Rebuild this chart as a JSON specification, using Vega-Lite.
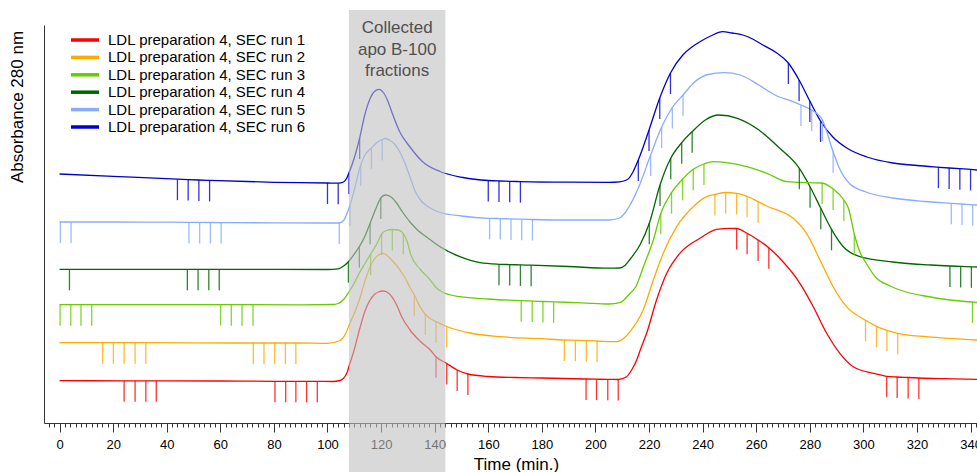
{
"$schema": "https://vega.github.io/schema/vega-lite/v6.json",
"width": 933, "height": 398, "autosize": "none",
"padding": {"left": 44, "top": 25, "right": 0, "bottom": 49},
"config": {"font": "Liberation Sans", "view": {"stroke": null}},
"resolve": {"axis": {"x": "independent"}},
"datasets": {"d": [
{"s":6,"t":0,"a":249},{"s":6,"t":20,"a":246.7},{"s":6,"t":44,"a":243.8,"m":1},{"s":6,"t":48,"a":243.4,"m":1},{"s":6,"t":52,"a":243,"m":1},{"s":6,"t":56,"a":242.6,"m":1},{"s":6,"t":80,"a":240.7},{"s":6,"t":100,"a":240,"m":1},{"s":6,"t":104,"a":239.8,"m":1},{"s":6,"t":106,"a":241},{"s":6,"t":107.2,"a":245},{"s":6,"t":108,"a":250,"m":1},{"s":6,"t":110,"a":265},{"s":6,"t":112,"a":285,"m":1},{"s":6,"t":114,"a":309},{"s":6,"t":116,"a":325},{"s":6,"t":117.5,"a":331.5},{"s":6,"t":119.2,"a":333.7},{"s":6,"t":121,"a":330},{"s":6,"t":122.5,"a":322},{"s":6,"t":124,"a":311},{"s":6,"t":127,"a":291},{"s":6,"t":130.8,"a":276},{"s":6,"t":135.6,"a":261},{"s":6,"t":142,"a":251.5},{"s":6,"t":150.6,"a":245.5},{"s":6,"t":160,"a":242.5,"m":1},{"s":6,"t":164,"a":242,"m":1},{"s":6,"t":168,"a":241.7,"m":1},{"s":6,"t":172,"a":241.4,"m":1},{"s":6,"t":190,"a":240.8},{"s":6,"t":205,"a":240.7},{"s":6,"t":209,"a":241.2},{"s":6,"t":212,"a":243.5},{"s":6,"t":214,"a":251},{"s":6,"t":216,"a":263,"m":1},{"s":6,"t":220,"a":293,"m":1},{"s":6,"t":224,"a":325,"m":1},{"s":6,"t":228,"a":350,"m":1},{"s":6,"t":232.6,"a":368},{"s":6,"t":236,"a":376},{"s":6,"t":239,"a":381.3},{"s":6,"t":243,"a":387},{"s":6,"t":247.5,"a":391.3},{"s":6,"t":251,"a":390},{"s":6,"t":255,"a":388},{"s":6,"t":259,"a":383.5},{"s":6,"t":262.5,"a":378},{"s":6,"t":267.7,"a":370},{"s":6,"t":272,"a":360,"m":1},{"s":6,"t":276,"a":343,"m":1},{"s":6,"t":280,"a":322,"m":1},{"s":6,"t":284,"a":302,"m":1},{"s":6,"t":288.6,"a":286},{"s":6,"t":293.8,"a":275},{"s":6,"t":301.3,"a":266},{"s":6,"t":311,"a":260},{"s":6,"t":320,"a":257.5},{"s":6,"t":328,"a":255.8,"m":1},{"s":6,"t":332,"a":255,"m":1},{"s":6,"t":336,"a":254.3,"m":1},{"s":6,"t":340,"a":253.6,"m":1},{"s":6,"t":342.4,"a":253},
{"s":5,"t":0,"a":201},{"s":5,"t":0.3,"a":201,"m":1},{"s":5,"t":4.3,"a":201,"m":1},{"s":5,"t":20,"a":201},{"s":5,"t":40,"a":200.8},{"s":5,"t":48.3,"a":200.7,"m":1},{"s":5,"t":52.3,"a":200.6,"m":1},{"s":5,"t":56.3,"a":200.5,"m":1},{"s":5,"t":60.3,"a":200.4,"m":1},{"s":5,"t":80,"a":200.2},{"s":5,"t":100,"a":200},{"s":5,"t":104.4,"a":200,"m":1},{"s":5,"t":106,"a":202.5},{"s":5,"t":108.4,"a":218,"m":1},{"s":5,"t":110,"a":233},{"s":5,"t":112.4,"a":258,"m":1},{"s":5,"t":114,"a":268},{"s":5,"t":116.4,"a":275,"m":1},{"s":5,"t":118.3,"a":280},{"s":5,"t":120.4,"a":283.5,"m":1},{"s":5,"t":121.5,"a":284.5},{"s":5,"t":123,"a":283},{"s":5,"t":125,"a":279},{"s":5,"t":127,"a":271},{"s":5,"t":129,"a":259},{"s":5,"t":130.8,"a":246},{"s":5,"t":132.5,"a":233},{"s":5,"t":135,"a":222},{"s":5,"t":138,"a":215.5},{"s":5,"t":142,"a":210.5},{"s":5,"t":150,"a":207},{"s":5,"t":160.5,"a":204.7,"m":1},{"s":5,"t":164.5,"a":204.4,"m":1},{"s":5,"t":168.5,"a":204.1,"m":1},{"s":5,"t":172.5,"a":203.8,"m":1},{"s":5,"t":176.5,"a":203.5,"m":1},{"s":5,"t":190,"a":203},{"s":5,"t":205,"a":203},{"s":5,"t":209,"a":205},{"s":5,"t":212,"a":214},{"s":5,"t":216.2,"a":236.3},{"s":5,"t":220.6,"a":268,"m":1},{"s":5,"t":224.7,"a":296,"m":1},{"s":5,"t":228.7,"a":315.5,"m":1},{"s":5,"t":232.7,"a":328,"m":1},{"s":5,"t":237,"a":341},{"s":5,"t":242,"a":348.5},{"s":5,"t":248,"a":350.3},{"s":5,"t":254,"a":348},{"s":5,"t":261,"a":338},{"s":5,"t":267,"a":328},{"s":5,"t":273.8,"a":321.3},{"s":5,"t":276.7,"a":318,"m":1},{"s":5,"t":280.7,"a":313,"m":1},{"s":5,"t":284.7,"a":303,"m":1},{"s":5,"t":288.7,"a":271.3,"m":1},{"s":5,"t":291,"a":255},{"s":5,"t":295,"a":239},{"s":5,"t":301,"a":231},{"s":5,"t":311,"a":225},{"s":5,"t":323,"a":221.5},{"s":5,"t":332.8,"a":219.7,"m":1},{"s":5,"t":336.8,"a":219,"m":1},{"s":5,"t":340.8,"a":218.2,"m":1},{"s":5,"t":342.4,"a":218},
{"s":4,"t":0,"a":153.7},{"s":4,"t":3.7,"a":153.7,"m":1},{"s":4,"t":20,"a":153.7},{"s":4,"t":47.7,"a":153.7,"m":1},{"s":4,"t":51.7,"a":153.7,"m":1},{"s":4,"t":55.7,"a":153.7,"m":1},{"s":4,"t":59.6,"a":153.7,"m":1},{"s":4,"t":80,"a":153.7},{"s":4,"t":100,"a":153.5},{"s":4,"t":104,"a":154.2},{"s":4,"t":106,"a":157},{"s":4,"t":107.8,"a":161.3,"m":1},{"s":4,"t":110,"a":169},{"s":4,"t":111.9,"a":176.3,"m":1},{"s":4,"t":114,"a":187},{"s":4,"t":115.9,"a":199.7,"m":1},{"s":4,"t":118,"a":214},{"s":4,"t":119.9,"a":225,"m":1},{"s":4,"t":121.5,"a":228},{"s":4,"t":123.5,"a":226.5},{"s":4,"t":125.5,"a":221},{"s":4,"t":128,"a":211},{"s":4,"t":130.8,"a":201},{"s":4,"t":134,"a":192},{"s":4,"t":137,"a":186},{"s":4,"t":142,"a":176.3},{"s":4,"t":149.4,"a":166.3},{"s":4,"t":156.9,"a":160.3},{"s":4,"t":164,"a":158.7,"m":1},{"s":4,"t":168,"a":158.4,"m":1},{"s":4,"t":172,"a":158.1,"m":1},{"s":4,"t":176,"a":157.8,"m":1},{"s":4,"t":190,"a":156.5},{"s":4,"t":205,"a":154.8},{"s":4,"t":209,"a":155},{"s":4,"t":211,"a":157.5},{"s":4,"t":213,"a":164},{"s":4,"t":216.6,"a":178},{"s":4,"t":220.1,"a":199.7,"m":1},{"s":4,"t":224.1,"a":238,"m":1},{"s":4,"t":228.1,"a":264.7,"m":1},{"s":4,"t":232.2,"a":280.3,"m":1},{"s":4,"t":236.1,"a":291.3,"m":1},{"s":4,"t":241,"a":303},{"s":4,"t":246,"a":308},{"s":4,"t":253,"a":304.7},{"s":4,"t":261,"a":293},{"s":4,"t":268.8,"a":274.7},{"s":4,"t":276.1,"a":254.7,"m":1},{"s":4,"t":280.1,"a":236.3,"m":1},{"s":4,"t":284.1,"a":214.7,"m":1},{"s":4,"t":288.1,"a":193.7,"m":1},{"s":4,"t":292.5,"a":176.3},{"s":4,"t":298.7,"a":166.3},{"s":4,"t":311,"a":161},{"s":4,"t":325,"a":158},{"s":4,"t":332.3,"a":157,"m":1},{"s":4,"t":336.3,"a":156.6,"m":1},{"s":4,"t":340.3,"a":156.2,"m":1},{"s":4,"t":342.4,"a":156},
{"s":3,"t":0,"a":118.3},{"s":3,"t":0.2,"a":118.3,"m":1},{"s":3,"t":4.2,"a":118.3,"m":1},{"s":3,"t":8,"a":118.3,"m":1},{"s":3,"t":12,"a":118.3,"m":1},{"s":3,"t":30,"a":118.3},{"s":3,"t":60.1,"a":118.3,"m":1},{"s":3,"t":64.1,"a":118.3,"m":1},{"s":3,"t":68.1,"a":118.3,"m":1},{"s":3,"t":72.2,"a":118.3,"m":1},{"s":3,"t":90,"a":118.2},{"s":3,"t":102,"a":118.5},{"s":3,"t":104,"a":119.5},{"s":3,"t":106,"a":123.5},{"s":3,"t":108,"a":131},{"s":3,"t":110,"a":140},{"s":3,"t":112.1,"a":151},{"s":3,"t":114,"a":159.5},{"s":3,"t":116.1,"a":169,"m":1},{"s":3,"t":118.4,"a":179},{"s":3,"t":120.2,"a":189,"m":1},{"s":3,"t":122,"a":192.5},{"s":3,"t":124.2,"a":193.5,"m":1},{"s":3,"t":126.5,"a":193},{"s":3,"t":128.3,"a":189.5,"m":1},{"s":3,"t":129.8,"a":181},{"s":3,"t":131,"a":169},{"s":3,"t":134.5,"a":154},{"s":3,"t":138.2,"a":143.5},{"s":3,"t":140.7,"a":135},{"s":3,"t":143.2,"a":130.5},{"s":3,"t":149.4,"a":126.3},{"s":3,"t":160,"a":124},{"s":3,"t":172.3,"a":122.3,"m":1},{"s":3,"t":176.4,"a":121.9,"m":1},{"s":3,"t":180.4,"a":121.5,"m":1},{"s":3,"t":184.4,"a":121.1,"m":1},{"s":3,"t":195,"a":120.2},{"s":3,"t":205,"a":119},{"s":3,"t":209.1,"a":120.3},{"s":3,"t":212.9,"a":129.7},{"s":3,"t":215,"a":136},{"s":3,"t":218,"a":157},{"s":3,"t":221.6,"a":183},{"s":3,"t":224.4,"a":209.7,"m":1},{"s":3,"t":228.4,"a":230.3,"m":1},{"s":3,"t":232.5,"a":243.7,"m":1},{"s":3,"t":236.5,"a":253.7,"m":1},{"s":3,"t":240.5,"a":259,"m":1},{"s":3,"t":244,"a":261.3},{"s":3,"t":249,"a":260.3},{"s":3,"t":256.5,"a":256.3},{"s":3,"t":264,"a":249.7},{"s":3,"t":271.5,"a":241.3},{"s":3,"t":279,"a":240.3},{"s":3,"t":284.6,"a":240,"m":1},{"s":3,"t":288.7,"a":234,"m":1},{"s":3,"t":292.7,"a":223,"m":1},{"s":3,"t":294.5,"a":214},{"s":3,"t":296.6,"a":189,"m":1},{"s":3,"t":298.7,"a":171},{"s":3,"t":301,"a":160},{"s":3,"t":304.5,"a":146},{"s":3,"t":310,"a":137},{"s":3,"t":316,"a":131},{"s":3,"t":324,"a":126.5},{"s":3,"t":331,"a":123.5},{"s":3,"t":340.7,"a":121,"m":1},{"s":3,"t":342.4,"a":120.7},
{"s":2,"t":0,"a":80.3},{"s":2,"t":16.1,"a":80.3,"m":1},{"s":2,"t":20.1,"a":80.3,"m":1},{"s":2,"t":24.1,"a":80.3,"m":1},{"s":2,"t":28.2,"a":80.3,"m":1},{"s":2,"t":32.2,"a":80.3,"m":1},{"s":2,"t":50,"a":80.2},{"s":2,"t":72.3,"a":80,"m":1},{"s":2,"t":76.3,"a":80,"m":1},{"s":2,"t":80.3,"a":80,"m":1},{"s":2,"t":84.3,"a":80,"m":1},{"s":2,"t":88.2,"a":80,"m":1},{"s":2,"t":100,"a":79.7},{"s":2,"t":104.7,"a":82.5},{"s":2,"t":106.5,"a":88},{"s":2,"t":108.4,"a":100},{"s":2,"t":110.5,"a":113},{"s":2,"t":112.1,"a":125},{"s":2,"t":114,"a":142},{"s":2,"t":115.9,"a":156},{"s":2,"t":117.5,"a":164},{"s":2,"t":119,"a":168},{"s":2,"t":120.6,"a":169.7},{"s":2,"t":122,"a":168},{"s":2,"t":123.3,"a":164.7},{"s":2,"t":125,"a":160},{"s":2,"t":127.1,"a":153},{"s":2,"t":129,"a":145},{"s":2,"t":130.8,"a":135.5},{"s":2,"t":132.4,"a":128,"m":1},{"s":2,"t":134.5,"a":116.3},{"s":2,"t":136.5,"a":109,"m":1},{"s":2,"t":138.2,"a":104.7},{"s":2,"t":140.5,"a":101.3,"m":1},{"s":2,"t":144.5,"a":96.5,"m":1},{"s":2,"t":153.2,"a":90},{"s":2,"t":164.4,"a":86.3},{"s":2,"t":180,"a":84.3},{"s":2,"t":188.4,"a":83,"m":1},{"s":2,"t":192.5,"a":82.7,"m":1},{"s":2,"t":196.6,"a":82.4,"m":1},{"s":2,"t":200.6,"a":82,"m":1},{"s":2,"t":207.9,"a":81.3},{"s":2,"t":210.5,"a":84.5},{"s":2,"t":212.9,"a":91.3},{"s":2,"t":217.8,"a":113},{"s":2,"t":221.6,"a":143},{"s":2,"t":225.3,"a":169.7},{"s":2,"t":230.3,"a":196.3},{"s":2,"t":236.5,"a":216.3},{"s":2,"t":241.5,"a":226.3},{"s":2,"t":244.6,"a":228.5,"m":1},{"s":2,"t":248.6,"a":230.5,"m":1},{"s":2,"t":252.7,"a":229.7,"m":1},{"s":2,"t":256.6,"a":226.7,"m":1},{"s":2,"t":260.7,"a":221.3,"m":1},{"s":2,"t":263.9,"a":217},{"s":2,"t":273.8,"a":204.7},{"s":2,"t":278.8,"a":189.7},{"s":2,"t":283.8,"a":163},{"s":2,"t":288.7,"a":136.3},{"s":2,"t":293.7,"a":116.3},{"s":2,"t":300.8,"a":102.7,"m":1},{"s":2,"t":304.9,"a":96.7,"m":1},{"s":2,"t":308.8,"a":92.7,"m":1},{"s":2,"t":312.8,"a":89.7,"m":1},{"s":2,"t":323.6,"a":86.3},{"s":2,"t":342.4,"a":83},
{"s":1,"t":0,"a":42.3},{"s":1,"t":24.1,"a":42.2,"m":1},{"s":1,"t":28.2,"a":42.2,"m":1},{"s":1,"t":32.2,"a":42.2,"m":1},{"s":1,"t":36.1,"a":42.2,"m":1},{"s":1,"t":60,"a":42},{"s":1,"t":80.4,"a":41.7,"m":1},{"s":1,"t":84.4,"a":41.7,"m":1},{"s":1,"t":88.2,"a":41.7,"m":1},{"s":1,"t":92.2,"a":41.7,"m":1},{"s":1,"t":96.2,"a":41.7,"m":1},{"s":1,"t":102,"a":41.5},{"s":1,"t":104.7,"a":42.5},{"s":1,"t":107.2,"a":49.7},{"s":1,"t":108.4,"a":60},{"s":1,"t":109.6,"a":69.7},{"s":1,"t":112.1,"a":95},{"s":1,"t":114,"a":112},{"s":1,"t":115.9,"a":123},{"s":1,"t":117.5,"a":128.5},{"s":1,"t":119,"a":131},{"s":1,"t":120.8,"a":132},{"s":1,"t":122.5,"a":130.5},{"s":1,"t":124,"a":126.3},{"s":1,"t":126,"a":117},{"s":1,"t":127.7,"a":106.3},{"s":1,"t":130.8,"a":93},{"s":1,"t":134.5,"a":82},{"s":1,"t":138.2,"a":73.5},{"s":1,"t":140.5,"a":66.3,"m":1},{"s":1,"t":144.5,"a":59.5,"m":1},{"s":1,"t":148.4,"a":53,"m":1},{"s":1,"t":152.4,"a":49,"m":1},{"s":1,"t":160,"a":46.5},{"s":1,"t":170,"a":45.5},{"s":1,"t":180,"a":45},{"s":1,"t":196.5,"a":44,"m":1},{"s":1,"t":200.4,"a":43.8,"m":1},{"s":1,"t":204.6,"a":43.7,"m":1},{"s":1,"t":208.5,"a":43.5,"m":1},{"s":1,"t":211.6,"a":46.3},{"s":1,"t":213.5,"a":53},{"s":1,"t":215.4,"a":63},{"s":1,"t":217,"a":75},{"s":1,"t":219.1,"a":89.7},{"s":1,"t":222.8,"a":123},{"s":1,"t":226.6,"a":149.7},{"s":1,"t":231.5,"a":169.7},{"s":1,"t":239,"a":184.7},{"s":1,"t":245.2,"a":193.7},{"s":1,"t":250.2,"a":194.7},{"s":1,"t":252.7,"a":194.5,"m":1},{"s":1,"t":256.6,"a":189.7,"m":1},{"s":1,"t":260.7,"a":183,"m":1},{"s":1,"t":264.7,"a":175.3,"m":1},{"s":1,"t":268.8,"a":164.7},{"s":1,"t":276.3,"a":139.7},{"s":1,"t":281.3,"a":116.3},{"s":1,"t":286.3,"a":89.7},{"s":1,"t":291.2,"a":69.7},{"s":1,"t":296.2,"a":56.3},{"s":1,"t":303.7,"a":49.7},{"s":1,"t":308.7,"a":46.7,"m":1},{"s":1,"t":312.6,"a":46,"m":1},{"s":1,"t":316.7,"a":45.5,"m":1},{"s":1,"t":320.7,"a":45,"m":1},{"s":1,"t":330,"a":44.3},{"s":1,"t":342.4,"a":43.7}
]},
"data": {"name": "d"},
"layer": [
{"mark": {"type": "line", "strokeWidth": 1.3, "interpolate": "monotone"},
 "encoding": {
  "x": {"field": "t", "type": "quantitative", "scale": {"domain": [-5.8, 342.4], "nice": false, "zero": false},
   "axis": {"title": "Time (min.)", "orient": "bottom", "values": [0,20,40,60,80,100,120,140,160,180,200,220,240,260,280,300,320,340],
    "tickSize": 9, "grid": false, "labelFontSize": 13, "labelColor": "#000", "labelPadding": 6, "labelOverlap": false, "labelFlush": false,
    "domainColor": "#333", "tickColor": "#333", "tickWidth": 1,
    "titleFontSize": 17, "titleFontWeight": "normal", "titleColor": "#000", "titleX": 472, "titleY": 46, "titleBaseline": "alphabetic"}},
  "y": {"field": "a", "type": "quantitative", "scale": {"domain": [0, 398], "nice": false},
   "axis": {"title": "Absorbance 280 nm", "ticks": false, "labels": false, "grid": false, "domainColor": "#333",
    "titleFontSize": 17, "titleFontWeight": "normal", "titleColor": "#000", "titleX": -27, "titleY": 81.5, "titleAngle": 270, "titleAlign": "center", "titleBaseline": "middle"}},
  "color": {"field": "s", "type": "nominal", "scale": {"domain": [1,2,3,4,5,6], "range": ["#ff0000","#ffaa00","#66cc00","#006600","#88aaff","#0000cc"]},
   "legend": {"title": null, "orient": "none", "legendX": 32, "legendY": 6, "padding": 0, "symbolType": "M-2,0L2,0", "symbolStrokeWidth": 3.5, "symbolSize": 196, "labelFontSize": 15, "labelColor": "#000", "labelOffset": 14, "labelLimit": 400, "rowPadding": 0.4,
    "labelExpr": "'LDL preparation 4, SEC run ' + datum.label"}}
 }},
{"transform": [{"filter": "datum.m == 1"}],
 "mark": {"type": "point", "shape": "M0,0L0,2", "filled": false, "strokeWidth": 1.3, "size": 441, "opacity": 0.8},
 "encoding": {
  "x": {"field": "t", "type": "quantitative",
   "axis": {"title": null, "orient": "bottom", "labels": false, "domain": false, "grid": false, "tickSize": 4, "tickColor": "#333", "tickWidth": 1,
    "values": [-4,-2,2,4,6,8,10,12,14,16,18,22,24,26,28,30,32,34,36,38,42,44,46,48,50,52,54,56,58,62,64,66,68,70,72,74,76,78,82,84,86,88,90,92,94,96,98,102,104,106,108,110,112,114,116,118,122,124,126,128,130,132,134,136,138,142,144,146,148,150,152,154,156,158,162,164,166,168,170,172,174,176,178,182,184,186,188,190,192,194,196,198,202,204,206,208,210,212,214,216,218,222,224,226,228,230,232,234,236,238,242,244,246,248,250,252,254,256,258,262,264,266,268,270,272,274,276,278,282,284,286,288,290,292,294,296,298,302,304,306,308,310,312,314,316,318,322,324,326,328,330,332,334,336,338,342]}},
  "y": {"field": "a", "type": "quantitative"},
  "stroke": {"field": "s", "type": "nominal", "scale": {"domain": [1,2,3,4,5,6], "range": ["#ff0000","#ffaa00","#66cc00","#006600","#88aaff","#0000cc"]}, "legend": null}
 }},
{"data": {"values": [{}]},
 "mark": {"type": "rect", "color": "#c0c0c0", "opacity": 0.6},
 "encoding": {"x": {"datum": 108, "type": "quantitative", "axis": null}, "x2": {"datum": 144}, "y": {"datum": 413, "type": "quantitative"}, "y2": {"datum": -60}}},
{"data": {"values": [{}]},
 "mark": {"type": "text", "lineBreak": "\n", "fontSize": 17, "color": "#505050", "align": "center", "baseline": "alphabetic", "lineHeight": 21.5},
 "encoding": {"x": {"datum": 126, "type": "quantitative", "axis": null}, "y": {"datum": 390, "type": "quantitative"}, "text": {"value": "Collected\napo B-100\nfractions"}}}
]
}
